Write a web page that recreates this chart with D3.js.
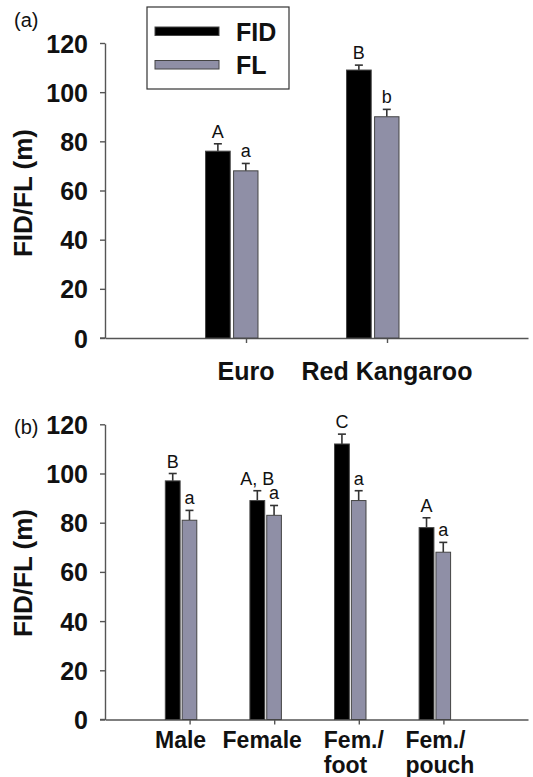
<!DOCTYPE html>
<html>
<head>
<meta charset="utf-8">
<script src="https://cdn.jsdelivr.net/npm/d3@7"></script>
<style>
  html, body { margin: 0; padding: 0; background: #fff; }
  svg { display: block; font-family: "Liberation Sans", Arial, sans-serif; }
</style>
</head>
<body>
<svg id="chart" width="533" height="777"></svg>
<script>
// ---------- data ----------
const yTicks = [0, 20, 40, 60, 80, 100, 120];
const seriesNames = ["FID", "FL"];

const catsA = [["Euro"], ["Red Kangaroo"]];
const fidA = [76, 109];
const fidErrA = [3, 2];
const flA = [68, 90];
const flErrA = [3, 3];
const fidLetA = ["A", "B"];
const flLetA = ["a", "b"];

const catsB = [["Male"], ["Female"], ["Fem./", "foot"], ["Fem./", "pouch"]];
const fidB = [97, 89, 112, 78];
const fidErrB = [3, 4, 4, 4];
const flB = [81, 83, 89, 68];
const flErrB = [4, 4, 4, 4];
const fidLetB = ["B", "A, B", "C", "A"];
const flLetB = ["a", "a", "a", "a"];

// ---------- style ----------
const FONT = '"Liberation Sans", Arial, sans-serif';
const colFID = "#000000";
const colFL = "#8f8fa6";
const axisCol = "#555";

const svg = d3.select("#chart");

function panel(opts) {
  const { cats, fid, fidErr, fl, flErr, fidLet, flLet, top, bottom, tag, tagY, titleY,
          labelSize, labelBase, labelDx, labelAnchor } = opts;
  const n = cats.length;
  const x = d3.scaleLinear().domain([0, n + 1]).range([105, 528]);
  const y = d3.scaleLinear().domain([0, 120]).range([bottom, top]);
  const g = svg.append("g");

  // y axis
  const yAx = g.append("g").attr("transform", `translate(${x(0)},0)`)
    .call(d3.axisLeft(y).tickValues(yTicks).tickSize(5).tickSizeOuter(0).tickPadding(12));
  yAx.selectAll("path, line").attr("stroke", axisCol).attr("stroke-width", 1.4);
  yAx.selectAll("text").attr("font-family", FONT).attr("font-size", 25)
    .attr("font-weight", "bold").attr("fill", "#111").attr("dy", "0.36em");

  // x axis
  const xAx = g.append("g").attr("transform", `translate(0,${y(0)})`)
    .call(d3.axisBottom(x).tickValues(d3.range(1, n + 1)).tickSize(5).tickSizeOuter(0).tickFormat(""));
  xAx.selectAll("path, line").attr("stroke", axisCol).attr("stroke-width", 1.4);
  // extend zero tick left
  g.append("line").attr("x1", x(0) - 5).attr("x2", x(0)).attr("y1", y(0)).attr("y2", y(0))
    .attr("stroke", axisCol).attr("stroke-width", 1.4);

  // bars
  const series = [
    { vals: fid, errs: fidErr, lets: fidLet, col: colFID, off0: -0.287, off1: -0.112 },
    { vals: fl, errs: flErr, lets: flLet, col: colFL, off0: -0.088, off1: 0.085 }
  ];
  series.forEach(s => {
    s.vals.forEach((v, i) => {
      const c = i + 1;
      const x0 = x(c + s.off0), x1 = x(c + s.off1);
      const cx = (x0 + x1) / 2;
      // error bar
      g.append("line").attr("x1", cx).attr("x2", cx)
        .attr("y1", y(v)).attr("y2", y(v + s.errs[i]))
        .attr("stroke", "#333").attr("stroke-width", 1.6);
      g.append("line").attr("x1", cx - 4).attr("x2", cx + 4)
        .attr("y1", y(v + s.errs[i])).attr("y2", y(v + s.errs[i]))
        .attr("stroke", "#333").attr("stroke-width", 1.6);
      g.append("rect").attr("x", x0).attr("y", y(v))
        .attr("width", x1 - x0).attr("height", y(0) - y(v))
        .attr("fill", s.col).attr("stroke", "#444").attr("stroke-width", 1);
      g.append("text").attr("x", cx).attr("y", y(v + s.errs[i]) - 6)
        .attr("text-anchor", "middle").attr("font-family", FONT)
        .attr("font-size", 18).attr("fill", "#111").text(s.lets[i]);
    });
  });

  // category labels
  cats.forEach((lines, i) => {
    const t = g.append("text").attr("font-family", FONT).attr("font-size", labelSize)
      .attr("font-weight", "bold").attr("fill", "#111")
      .attr("text-anchor", labelAnchor[i]);
    lines.forEach((ln, j) => {
      t.append("tspan").attr("x", x(i + 1) + labelDx[i])
        .attr("y", labelBase + j * 25).text(ln);
    });
  });

  // y title
  g.append("text").attr("transform", `translate(32,${titleY}) rotate(-90)`)
    .attr("text-anchor", "middle").attr("font-family", FONT).attr("font-size", 26)
    .attr("font-weight", "bold").attr("fill", "#111").text("FID/FL (m)");

  // panel tag
  g.append("text").attr("x", 14).attr("y", tagY).attr("font-family", FONT)
    .attr("font-size", 20).attr("fill", "#111").text(tag);
}

panel({ cats: catsA, fid: fidA, fidErr: fidErrA, fl: flA, flErr: flErrA,
        fidLet: fidLetA, flLet: flLetA, top: 43, bottom: 338, tag: "(a)", tagY: 27,
        titleY: 193, labelSize: 25, labelBase: 380, labelDx: [0, 0],
        labelAnchor: ["middle", "middle"] });

panel({ cats: catsB, fid: fidB, fidErr: fidErrB, fl: flB, flErr: flErrB,
        fidLet: fidLetB, flLet: flLetB, top: 424.3, bottom: 719.5, tag: "(b)", tagY: 434,
        titleY: 573, labelSize: 23, labelBase: 748, labelDx: [-9, -12, -35, -38],
        labelAnchor: ["middle", "middle", "start", "start"] });

// legend
const lg = svg.append("g");
lg.append("rect").attr("x", 147).attr("y", 7).attr("width", 142).attr("height", 82)
  .attr("fill", "#fff").attr("stroke", "#333").attr("stroke-width", 1.2);
[colFID, colFL].forEach((c, i) => {
  const yy = i === 0 ? 27 : 60.5;
  lg.append("rect").attr("x", 155).attr("y", yy).attr("width", 64).attr("height", 8.5)
    .attr("fill", c).attr("stroke", "#444").attr("stroke-width", 1);
  lg.append("text").attr("x", 236).attr("y", i === 0 ? 41 : 73.5)
    .attr("font-family", FONT).attr("font-size", 25).attr("font-weight", "bold")
    .attr("fill", "#111").text(seriesNames[i]);
});
</script>
</body>
</html>
